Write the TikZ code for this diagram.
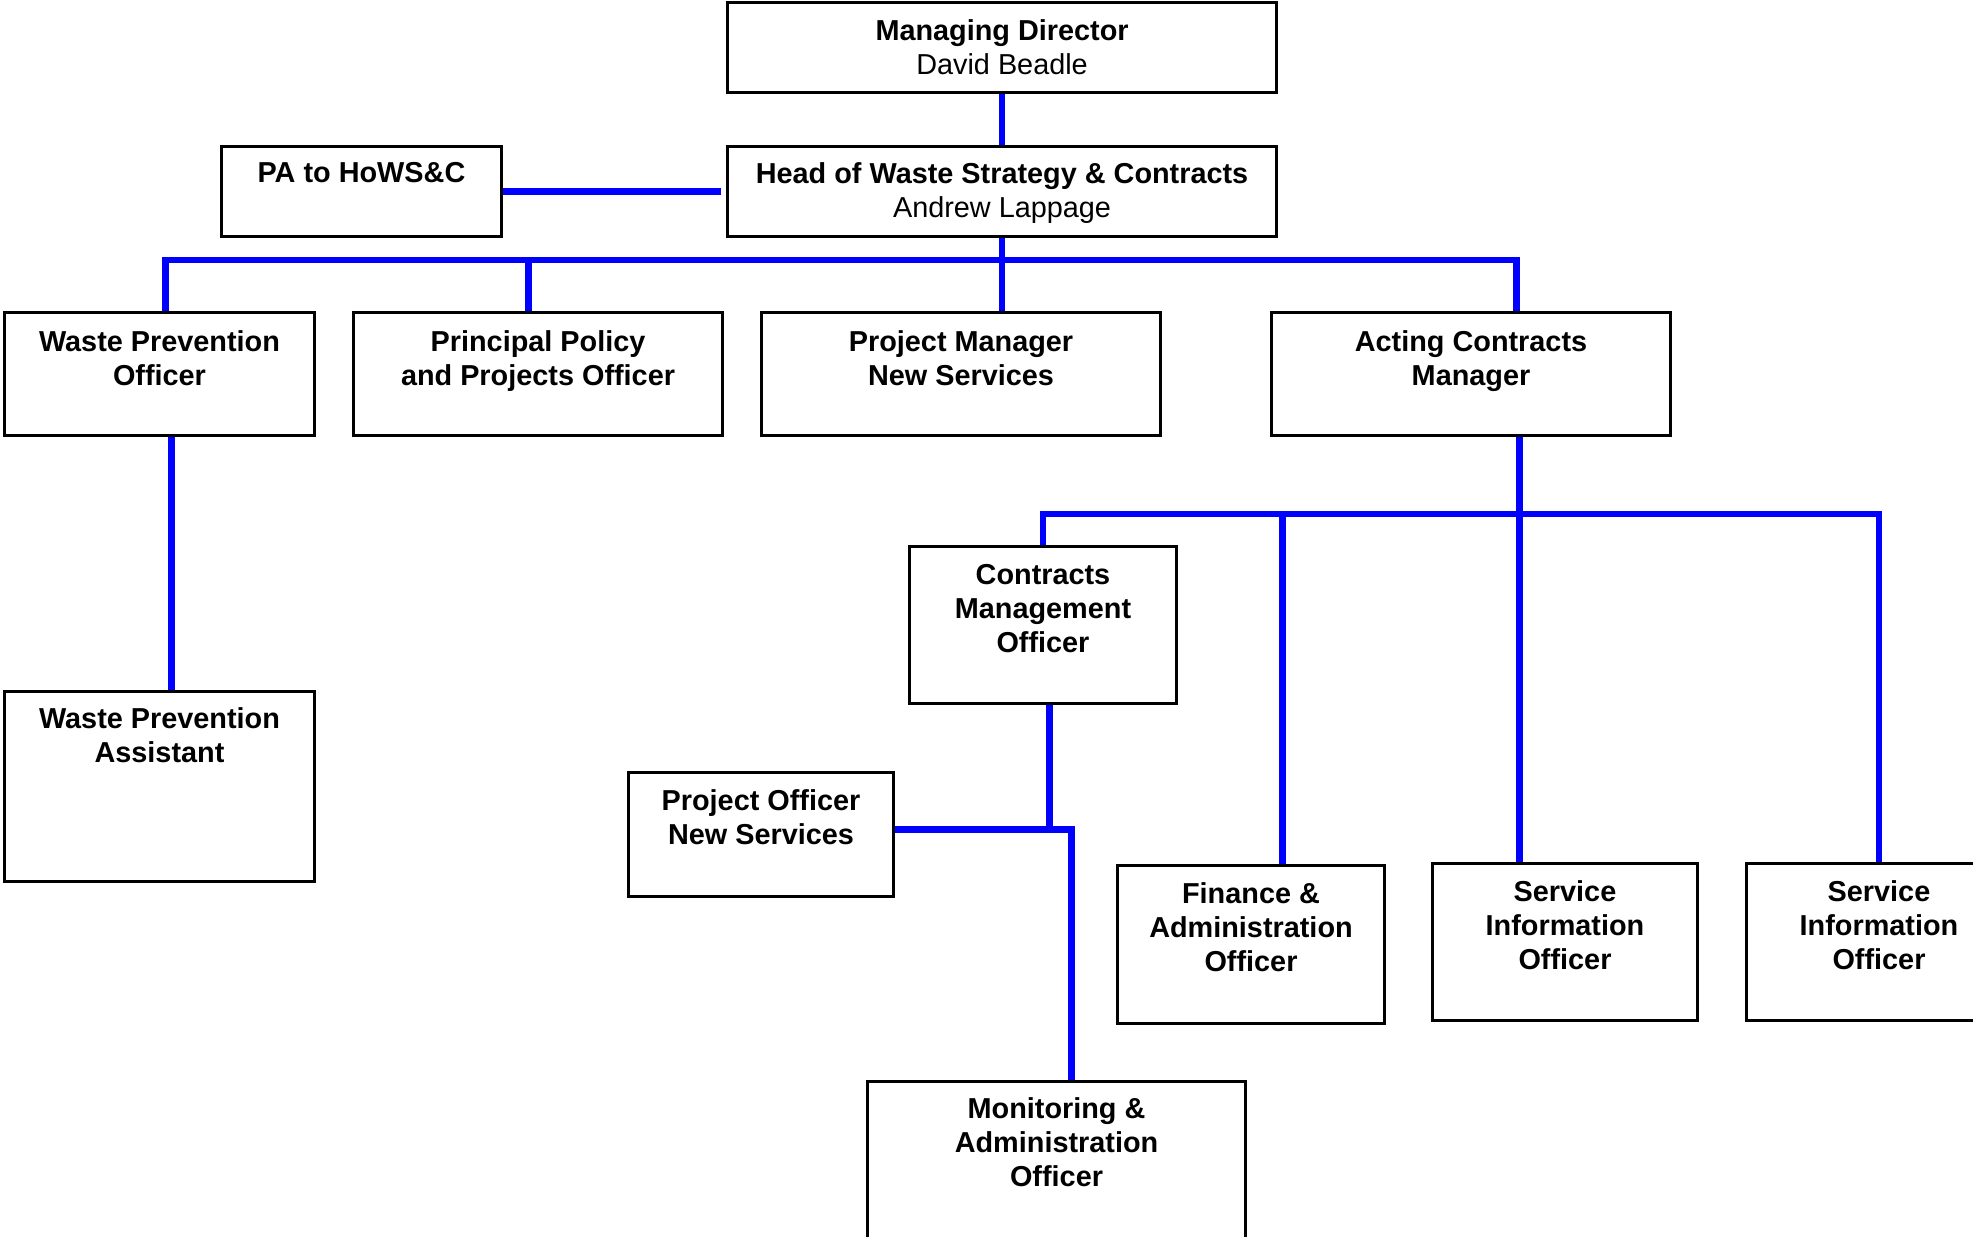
\documentclass[tikz,border=0pt]{standalone}
\usepackage{fontspec}
\setmainfont{Liberation Sans}
\usetikzlibrary{positioning}

\begin{document}
\begin{tikzpicture}[x=0.01cm, y=-0.01cm,
        box/.style={draw, line width=0.8pt, anchor=north west, inner sep=0pt},
        title/.style={align=center, inner sep=0pt, font=\fontsize{8.2}{9.6}\selectfont\bfseries},
        link/.style={draw=blue, line width=1.8pt}]
        \clip (0,0) rectangle (1973,1236);

        % boxes
        \node[box, minimum width=5.49cm, minimum height=0.90cm] (md) at (726,1) {};
        \node[box, minimum width=5.49cm, minimum height=0.90cm] (head) at (726,145) {};
        \node[box, minimum width=2.80cm, minimum height=0.90cm] (pa) at (220,145) {};
        \node[box, minimum width=3.10cm, minimum height=1.23cm] (wpo) at (3,311) {};
        \node[box, minimum width=3.69cm, minimum height=1.23cm] (ppo) at (352,311) {};
        \node[box, minimum width=3.99cm, minimum height=1.23cm] (pmns) at (760,311) {};
        \node[box, minimum width=3.99cm, minimum height=1.23cm] (acm) at (1270,311) {};
        \node[box, minimum width=2.67cm, minimum height=1.57cm] (cmo) at (908,545) {};
        \node[box, minimum width=3.10cm, minimum height=1.90cm] (wpa) at (3,690) {};
        \node[box, minimum width=2.65cm, minimum height=1.24cm] (pons) at (627,771) {};
        \node[box, minimum width=2.67cm, minimum height=1.58cm] (fao) at (1116,864) {};
        \node[box, minimum width=2.65cm, minimum height=1.57cm] (sio_1) at (1431,862) {};
        \node[box, minimum width=2.65cm, minimum height=1.57cm] (sio_2) at (1745,862) {};
        \node[box, minimum width=3.78cm, minimum height=1.70cm] (mao) at (866,1080) {};

        % titles
        \node[title, below=0.18cm of md.north] (md_t) {Managing Director\\\mdseries David Beadle};
        \node[title, below=0.17cm of head.north] (head_t) {Head of Waste Strategy \& Contracts\\\mdseries Andrew Lappage};
        \node[title, below=0.17cm of pa.north] (pa_t) {PA to HoWS\&C};
        \node[title, below=0.19cm of wpo.north] (wpo_t) {Waste Prevention\\Officer};
        \node[title, below=0.19cm of ppo.north] (ppo_t) {Principal Policy\\and Projects Officer};
        \node[title, below=0.19cm of pmns.north] (pmns_t) {Project Manager\\New Services};
        \node[title, below=0.19cm of acm.north] (acm_t) {Acting Contracts\\Manager};
        \node[title, below=0.19cm of cmo.north] (cmo_t) {Contracts\\Management\\Officer};
        \node[title, below=0.17cm of wpa.north] (wpa_t) {Waste Prevention\\Assistant};
        \node[title, below=0.18cm of pons.north] (pons_t) {Project Officer\\New Services};
        \node[title, below=0.18cm of fao.north] (fao_t) {Finance \&\\Administration\\Officer};
        \node[title, below=0.18cm of sio_1.north] (sio_1_t) {Service\\Information\\Officer};
        \node[title, below=0.18cm of sio_2.north] (sio_2_t) {Service\\Information\\Officer};
        \node[title, below=0.17cm of mao.north] (mao_t) {Monitoring \&\\Administration\\Officer};

        \coordinate (hub) at ([yshift=-0.22cm]head.south);
        \coordinate (hub_2) at ([xshift=0.485cm, yshift=-0.77cm]acm.south);

        \draw[link] (md) -- (head);
        \draw[link] (pa.east) -- ([xshift=-0.05cm]head.west);
        \draw[link] (head.south) -- (head.south |- pmns.north);
        \draw[link] ([xshift=0.06cm]wpo.north) |- (hub) -| ([xshift=0.455cm]acm.north);
        \draw[link] ([xshift=-0.095cm]ppo.north) -- ([xshift=-0.095cm]ppo.north |- hub);

        \draw[link] ([xshift=0.12cm]wpo.south) -- ([xshift=0.12cm]wpa.north);

        \draw[link] ([xshift=0.485cm]acm.south) -- ([xshift=0.485cm]acm.south |- sio_1.north);
        \draw[link] (cmo.north) |- (hub_2) -| (sio_2.north);
        \draw[link] ([xshift=0.315cm]fao.north) -- ([xshift=0.315cm]fao.north |- hub_2);

        \draw[link] ([xshift=0.065cm]cmo.south) -- ([xshift=0.065cm, yshift=0.05cm]cmo.south |- pons.east);
        \draw[link] ([yshift=0.05cm]pons.east) -| ([xshift=0.15cm]mao.north);
    \end{tikzpicture}
\end{document}
